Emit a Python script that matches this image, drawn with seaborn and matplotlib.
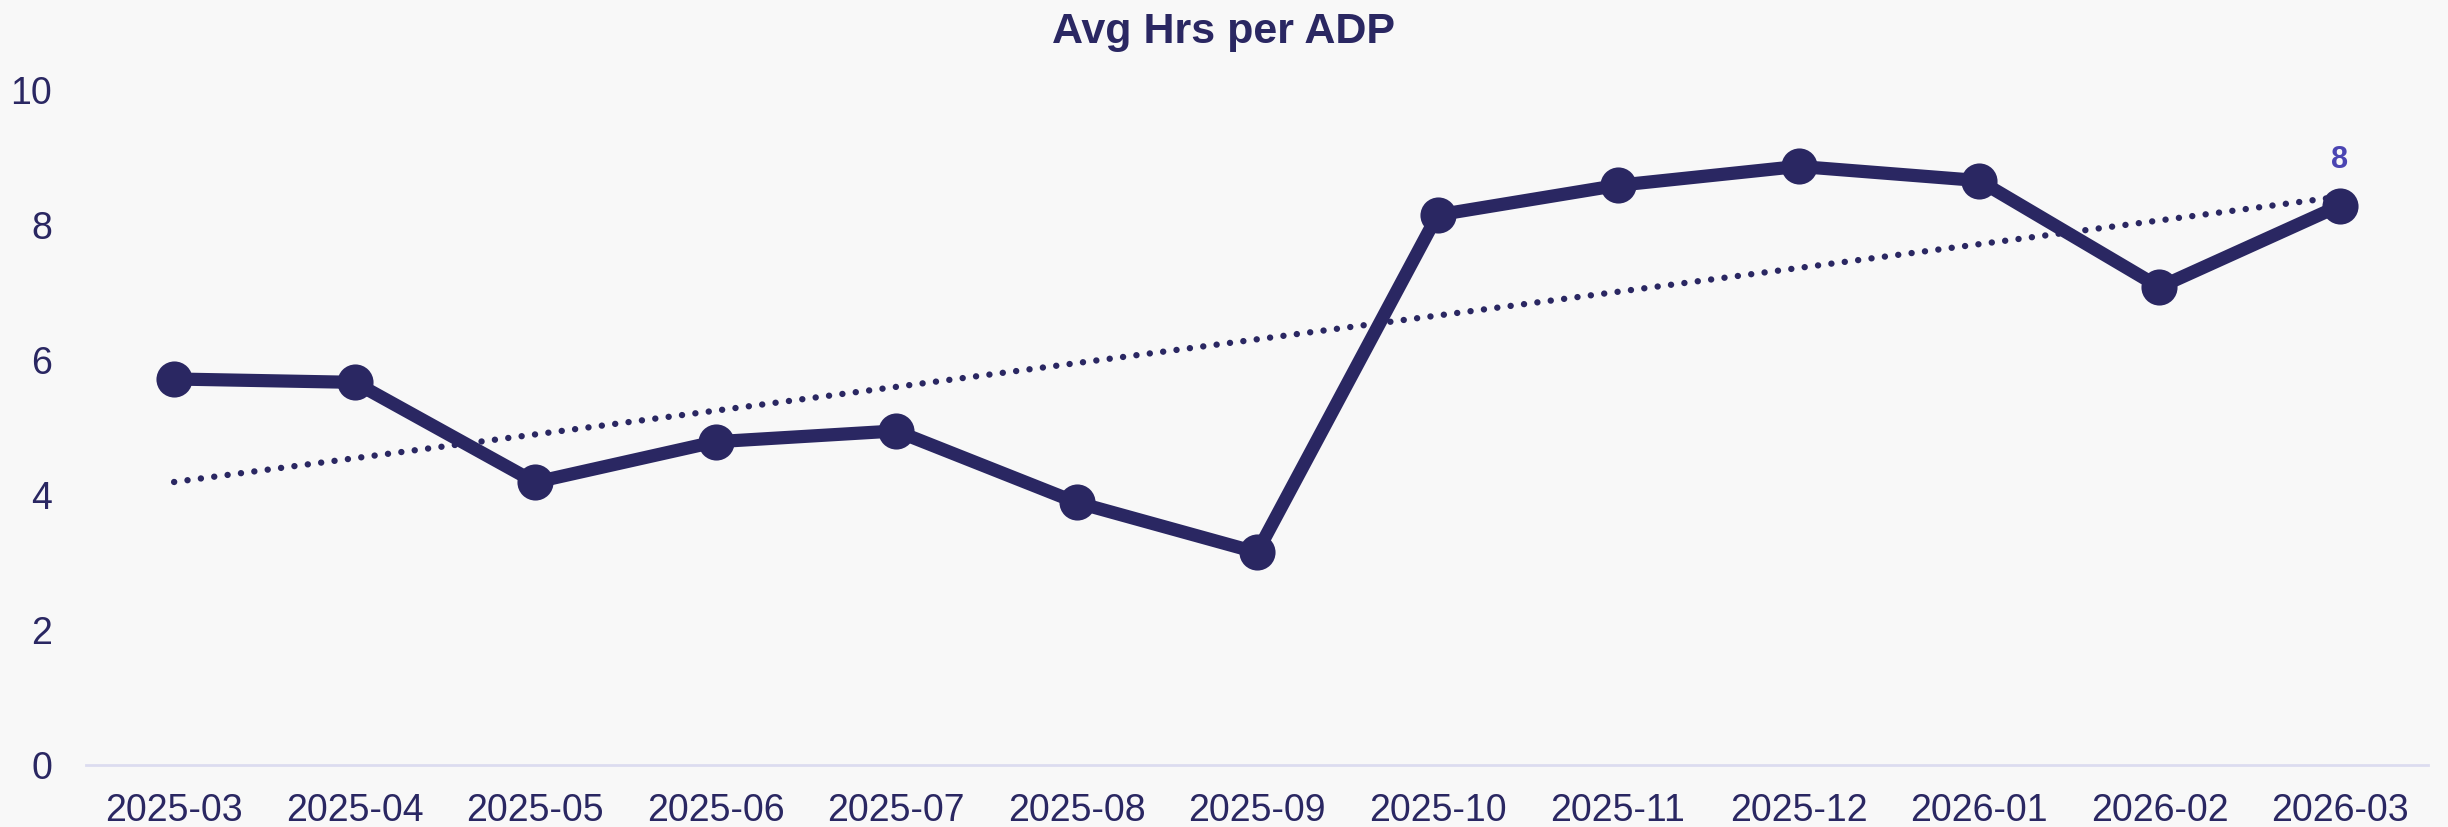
import numpy as np
import pandas as pd
import matplotlib
matplotlib.use("Agg")
import matplotlib.pyplot as plt
import seaborn as sns

# ── Data ──────────────────────────────────────────────────────
months = ["2025-03", "2025-04", "2025-05", "2025-06", "2025-07", "2025-08", "2025-09",
          "2025-10", "2025-11", "2025-12", "2026-01", "2026-02", "2026-03"]
avg_hrs = [5.72, 5.67, 4.19, 4.79, 4.95, 3.89, 3.15, 8.15, 8.59, 8.87, 8.66, 7.08, 8.29]
y_ticks = [0, 2, 4, 6, 8, 10]

NAVY = "#2a2762"
LABEL = "#4b45b2"
BG = "#f8f8f8"

sns.set_theme(style="white", rc={"figure.facecolor": BG, "axes.facecolor": BG})
plt.rcParams["font.family"] = ["Liberation Sans", "DejaVu Sans"]

df = pd.DataFrame({"month": months, "hrs": avg_hrs})
xs = np.arange(len(months))

# linear trend of the series
slope, icpt = np.polyfit(xs, avg_hrs, 1)
trend = slope * xs + icpt

fig = plt.figure(figsize=(24.48, 8.27), dpi=100)
ax = fig.add_axes([0.035, 0.075, 0.957, 0.816])

sns.lineplot(data=df, x="month", y="hrs", ax=ax, color=NAVY, linewidth=9.5,
             marker="o", markersize=26, markeredgewidth=0, sort=False, zorder=3)
ax.plot(xs, trend, color=NAVY, linewidth=4.6, linestyle=(0, (0.01, 2.1)),
        dash_capstyle="round", solid_capstyle="round", zorder=2)

ax.annotate(f"{avg_hrs[-1]:.0f}", (xs[-1], avg_hrs[-1]), xytext=(0, 22),
            textcoords="offset points", ha="center", va="bottom",
            fontsize=22, fontweight="bold", color=LABEL)

ax.set_xlim(-0.49, len(months) - 0.51)
ax.set_ylim(0, 10)
ax.set_yticks(y_ticks)
ax.set_xlabel("")
ax.set_ylabel("")
ax.tick_params(axis="y", length=0, pad=24, labelsize=27, labelcolor=NAVY)
ax.tick_params(axis="x", length=0, pad=20, labelsize=27, labelcolor=NAVY)
for s in ["top", "right", "left"]:
    ax.spines[s].set_visible(False)
ax.spines["bottom"].set_color("#dcdcf0")
ax.spines["bottom"].set_linewidth(2)

fig.suptitle("Avg Hrs per ADP", y=0.985, fontsize=31, fontweight="bold", color=NAVY)

fig.savefig("out.png", dpi=100, facecolor=BG)
